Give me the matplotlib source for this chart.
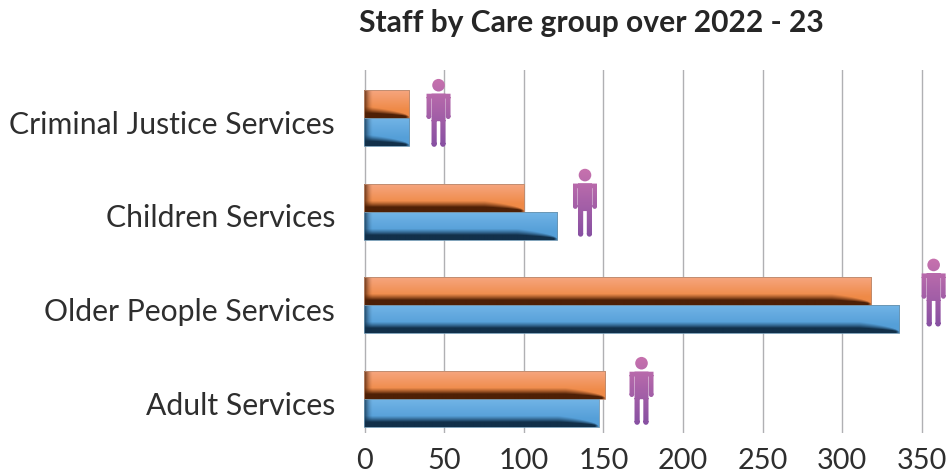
import numpy as np
import matplotlib
matplotlib.use("Agg")
import matplotlib.pyplot as plt
from matplotlib.path import Path
from matplotlib.patches import PathPatch
from matplotlib.transforms import Affine2D, ScaledTranslation

categories = ["Adult Services", "Older People Services", "Children Services", "Criminal Justice Services"]
orange_values = [151, 318, 100, 28]
blue_values = [147, 336, 121, 28]
person_x = [174, 357.5, 138.5, 46.5]
person_base = [-0.28, 0.77, 1.73, 2.69]
x_ticks = [0, 50, 100, 150, 200, 250, 300, 350]
title = "Staff by Care group over 2022 - 23"

W, H = 946, 475
SCALE = 1.592
X0 = 364.5
LEFT = 362
plt.rcParams["font.family"] = ["Lato", "DejaVu Sans"]
fig = plt.figure(figsize=(W / 100, H / 100), dpi=100)
ax = fig.add_axes([LEFT / W, (H - 433) / H, (W - LEFT) / W, 363 / H])
xlim = ((LEFT - X0) / SCALE, (W - X0) / SCALE)
ylim = (-34 / 93.6, 329 / 93.6)
ax.set_xlim(*xlim)
ax.set_ylim(*ylim)
for s in ax.spines.values():
    s.set_visible(False)
ax.set_xticks(x_ticks)
ax.set_yticks(range(len(categories)))
ax.set_yticklabels(categories, fontsize=21.7, color="#2e2e2e")
ax.tick_params(axis="both", length=0)
ax.tick_params(axis="y", pad=19.5)
ax.tick_params(axis="x", pad=11, labelsize=20.8, labelcolor="#2e2e2e")
shift = ScaledTranslation(0, -3 / 72, fig.dpi_scale_trans)
for t in ax.get_yticklabels():
    t.set_transform(t.get_transform() + shift)
ax.grid(axis="x", color="#b0b0b3", lw=1.0, zorder=0)
ax.set_axisbelow(True)


def bevel(w, h, top, mid, dark):
    top, mid, dark = [np.array(matplotlib.colors.to_rgb(c)) for c in (top, mid, dark)]
    w, h = max(int(w), 2), max(int(h), 2)
    xx, yy = np.meshgrid(np.arange(w) + .5, np.arange(h) + .5)
    v = np.clip(yy / (h * 0.7), 0, 1)
    img = top * (1 - v[..., None]) + mid * v[..., None]
    taper = np.clip((w - xx) / 40, 0, 1) ** 0.5
    edge = h - 0.5 - 4.5 * taper
    soft = np.maximum(6.5 * taper, 0.5)
    d = np.clip((yy - (edge - soft)) / soft, 0, 1) ** 1.3
    d = d * np.clip((w - xx) / 4, 0, 1)
    img = img * (1 - d[..., None]) + dark * d[..., None]
    l = np.clip(1 - xx / 9, 0, 1) ** 1.6 * 0.9
    img = img * (1 - l[..., None]) + dark * l[..., None]
    return img


bar_h = 28 / 93.6
ypos = np.arange(len(categories))
styles = [(orange_values, bar_h / 2, ("#F6A680", "#EF8A47", "#4E2006"), "#B98A70"),
          (blue_values, -bar_h / 2, ("#72B4E6", "#559FD8", "#12304A"), "#6B93AE")]
for vals, off, cols, edge in styles:
    bars = ax.barh(ypos + off, vals, height=bar_h, color=cols[1], zorder=2)
    for b in bars:
        x0, y0, bw, bh = b.get_bbox().bounds
        x0 -= 0.6
        bw += 0.6
        ax.imshow(bevel(bw * SCALE, 28, *cols), extent=(x0, x0 + bw, y0, y0 + bh),
                  aspect="auto", zorder=3, interpolation="bilinear", origin="upper")
        ax.add_patch(plt.Rectangle((x0, y0), bw, bh, fc="none", ec=edge, lw=0.6, zorder=4))
ax.set_xlim(*xlim)
ax.set_ylim(*ylim)


def person_path():
    # pixels, origin at the feet centre, y up
    V, C = [], []

    def rect(x0, y0, x1, y1):
        V.extend([(x0, y0), (x1, y0), (x1, y1), (x0, y1), (x0, y0)])
        C.extend([Path.MOVETO, Path.LINETO, Path.LINETO, Path.LINETO, Path.CLOSEPOLY])

    rect(-7, 26, 7, 53.5)
    rect(-12, 49, 12, 53.5)
    rect(-12, 30.5, -7.4, 50)
    rect(7.4, 30.5, 12, 50)
    rect(-7, 3, -1.8, 27)
    rect(1.8, 3, 7, 27)
    parts = [Path(V, C), Path.circle((0, 62), 6.3),
             Path.circle((-9.7, 30.5), 2.3), Path.circle((9.7, 30.5), 2.3),
             Path.circle((-4.4, 3), 2.6), Path.circle((4.4, 3), 2.6)]
    return Path.make_compound_path(*parts)


pp = person_path()
grad = np.linspace(0, 1, 64)[:, None, None]
c_top = np.array(matplotlib.colors.to_rgb("#C772AE"))
c_bot = np.array(matplotlib.colors.to_rgb("#8750A2"))
gimg = c_top * (1 - grad) + c_bot * grad
for px, py in zip(person_x, person_base):
    dx, dy = ax.transData.transform((px, py))
    tr = Affine2D().translate(dx, dy)
    a = ax.transData.inverted().transform((dx - 13, dy))
    b = ax.transData.inverted().transform((dx + 13, dy + 69))
    im = ax.imshow(gimg, aspect="auto", zorder=5, extent=(a[0], b[0], a[1], b[1]), origin="upper")
    im.set_clip_path(PathPatch(pp, transform=tr))
ax.set_xlim(*xlim)
ax.set_ylim(*ylim)

fig.text(359 / W, 1 - 23 / H, title, fontsize=21.6, fontweight="bold", color="#262626", ha="left", va="center")
fig.savefig("out.png", dpi=100)
